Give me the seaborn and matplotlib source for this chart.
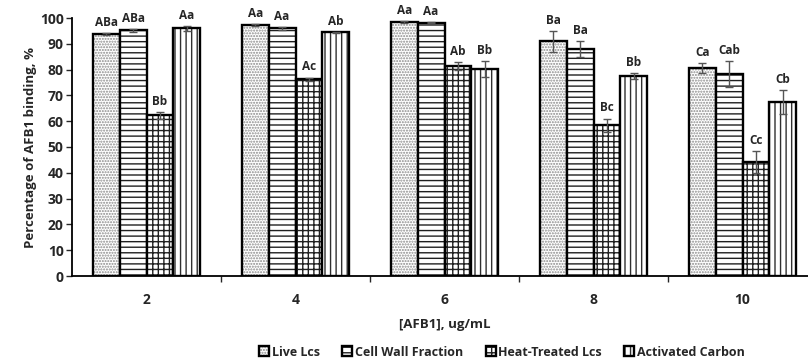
import pandas as pd
import matplotlib
matplotlib.use('Agg')
import matplotlib.pyplot as plt
import matplotlib.colors as mcolors
import seaborn as sns

# ------------- data -------------
conc = ['2', '4', '6', '8', '10']
groups = ['Live Lcs', 'Cell Wall Fraction', 'Heat-Treated Lcs', 'Activated Carbon']

live = [93.8, 97.3, 98.4, 91.0, 80.5]
cell_wall = [95.2, 96.0, 98.2, 88.0, 78.3]
heat = [62.3, 76.3, 81.3, 58.4, 44.3]
carbon = [96.0, 94.4, 80.2, 77.4, 67.3]

live_err = [0.4, 0.3, 0.3, 4.0, 2.0]
cell_wall_err = [0.6, 0.5, 0.3, 3.2, 5.0]
heat_err = [1.3, 0.6, 1.5, 2.6, 4.2]
carbon_err = [1.0, 0.3, 3.0, 1.2, 4.7]

live_lab = ['ABa', 'Aa', 'Aa', 'Ba', 'Ca']
cell_wall_lab = ['ABa', 'Aa', 'Aa', 'Ba', 'Cab']
heat_lab = ['Bb', 'Ac', 'Ab', 'Bc', 'Cc']
carbon_lab = ['Aa', 'Ab', 'Bb', 'Bb', 'Cb']

values = [live, cell_wall, heat, carbon]
errors = [live_err, cell_wall_err, heat_err, carbon_err]
letters = [live_lab, cell_wall_lab, heat_lab, carbon_lab]

rows = []
for g, vals in zip(groups, values):
    for c, v in zip(conc, vals):
        rows.append({'conc': c, 'group': g, 'value': v})
df = pd.DataFrame(rows)

# ------------- style -------------
sns.set_style('white')
plt.rcParams['font.family'] = ['Open Sans', 'DejaVu Sans']
plt.rcParams['font.weight'] = 'bold'
plt.rcParams['hatch.linewidth'] = 1.0
plt.rcParams['hatch.color'] = '#202020'

fig = plt.figure(figsize=(8.08, 3.64), dpi=100)
ax = fig.add_axes([72 / 808, 1 - 276 / 364, 745 / 808, 258 / 364])

sns.barplot(data=df, x='conc', y='value', hue='group', order=conc,
            hue_order=groups, width=0.72, palette=['white'] * 4,
            edgecolor='black', linewidth=1.7, errorbar=None, ax=ax)

hatches = ['......', '---', '+++', '|||']
hatch_cols = ['#8a8a8a', '#202020', '#202020', '#303030']
for cont, h, hc, errs, labs in zip(ax.containers, hatches, hatch_cols, errors, letters):
    for bar, e, lab in zip(cont.patches, errs, labs):
        bar.set_hatch(h)
        bar._hatch_color = mcolors.to_rgba(hc)
        xc = bar.get_x() + bar.get_width() / 2
        top = bar.get_height()
        ax.errorbar(xc, top, yerr=e, color='#555555', lw=1, capsize=3,
                    capthick=1, zorder=5)
        ax.annotate(lab, (xc, top + e), xytext=(0, 3), textcoords='offset points',
                    ha='center', va='bottom', fontsize=8.5, fontweight='bold')

ax.get_legend().remove()
fig.legend(ax.containers, groups, loc='center', bbox_to_anchor=(502 / 808, 1 - 352 / 364),
           ncol=4, frameon=False, fontsize=9, handlelength=0.8, handleheight=0.8,
           handletextpad=0.2, columnspacing=1.8, borderpad=0)

ax.set_ylim(0, 100)
ax.set_xlim(-0.5, 4.5)
ax.set_yticks(range(0, 101, 10))
ax.set_xticks(range(len(conc)))
ax.set_xticks([0.5, 1.5, 2.5, 3.5, 4.5], minor=True)
ax.tick_params(axis='x', which='major', length=0, pad=12, labelsize=10)
ax.tick_params(axis='x', which='minor', length=4, width=1, direction='out', bottom=True)
ax.tick_params(axis='y', length=4, width=1, direction='out', left=True, labelsize=10, pad=2)

for s in ['top', 'right']:
    ax.spines[s].set_visible(False)
for s in ['left', 'bottom']:
    ax.spines[s].set_linewidth(1.3)
    ax.spines[s].set_color('black')

ax.set_xlabel('[AFB1], ug/mL', fontsize=9.5, fontweight='bold', labelpad=8)
ax.set_ylabel('Percentage of AFB1 binding, %', fontsize=9.5, fontweight='bold', labelpad=2)

fig.savefig('out.png', dpi=100)
plt.close()
